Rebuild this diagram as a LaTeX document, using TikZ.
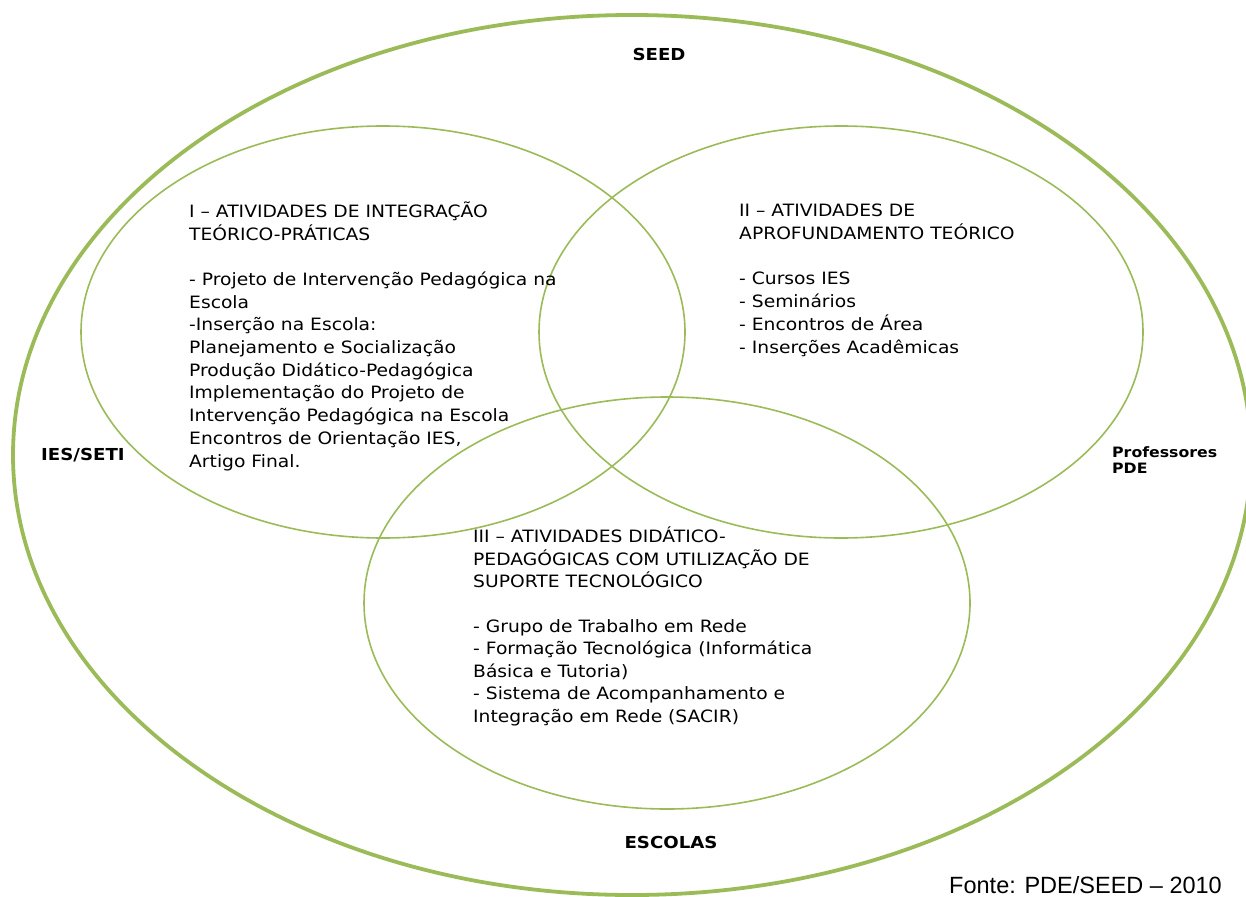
\documentclass[tikz,border=0pt]{standalone}
\usepackage{fontspec}
\setmainfont{DejaVu Sans}[FakeStretch=1.1]
\newfontfamily\fontefont{Liberation Sans}
\definecolor{vennverde}{HTML}{9BBB59}
\tikzset{
    circulo/.style={draw=vennverde, line width=1.6pt},
    circulomaior/.style={draw=vennverde, line width=3.8pt},
    bloco/.style={anchor=base west, align=left, inner sep=0pt, font=\fontsize{17}{22.7}\selectfont},
    rotulo/.style={anchor=base, inner sep=0pt, font=\bfseries\fontsize{16.5}{20}\selectfont}
}

\begin{document}
\begin{tikzpicture}[x=1pt, y=-1pt]
    % Page area
    \useasboundingbox (0,0) rectangle (1246,896);
    \clip (0,0) rectangle (1246,896);
    % Centres of the ellipses
    \coordinate (cseed) at (632, 455);
    \coordinate (cI) at (383, 332);
    \coordinate (cII) at (841, 332);
    \coordinate (cIII) at (667, 603);
    \draw [circulomaior] (cseed) ellipse [x radius=619, y radius=440];
    \draw [circulo] (cI) ellipse [x radius=302, y radius=206];
    \draw [circulo] (cII) ellipse [x radius=302, y radius=206];
    \draw [circulo] (cIII) ellipse [x radius=303, y radius=206];
    % Outer labels
    \node [rotulo] (seed) at (659, 61) {SEED};
    \node [rotulo] (escolas) at (671, 848) {ESCOLAS};
    \node [rotulo, anchor=base west] (ies) at (41, 460) {IES/SETI};
    \node [rotulo, anchor=base west, align=left, font=\bfseries\fontsize{14.3}{16}\selectfont] (prof) at (1112, 473) {Professores\\PDE};
    % Activity blocks (anchored on the last line)
    \node [bloco] (ativI) at (189, 467) {I – ATIVIDADES DE INTEGRAÇÃO\\
        TEÓRICO-PRÁTICAS\\[22.7pt]
        - Projeto de Intervenção Pedagógica na\\
        Escola\\
        -Inserção na Escola:\\
        Planejamento e Socialização\\
        Produção Didático-Pedagógica\\
        Implementação do Projeto de\\
        Intervenção Pedagógica na Escola\\
        Encontros de Orientação IES,\\
        Artigo Final.};
    \node [bloco] (ativII) at (739, 353) {II – ATIVIDADES DE\\
        APROFUNDAMENTO TEÓRICO\\[22.7pt]
        - Cursos IES\\
        - Seminários\\
        - Encontros de Área\\
        - Inserções Acadêmicas};
    \node [bloco, font=\fontsize{17}{22.4}\selectfont] (ativIII) at (473, 722) {III – ATIVIDADES DIDÁTICO-\\
        PEDAGÓGICAS COM UTILIZAÇÃO DE\\
        SUPORTE TECNOLÓGICO\\[22.4pt]
        - Grupo de Trabalho em Rede\\
        - Formação Tecnológica (Informática\\
        Básica e Tutoria)\\
        - Sistema de Acompanhamento e\\
        Integração em Rede (SACIR)};
    % Source
    \node [anchor=base east, inner sep=0pt, font=\fontefont\fontsize{23.5}{26}\selectfont] (fonte) at (1222, 893) {Fonte: PDE/SEED – 2010};
\end{tikzpicture}
\end{document}
